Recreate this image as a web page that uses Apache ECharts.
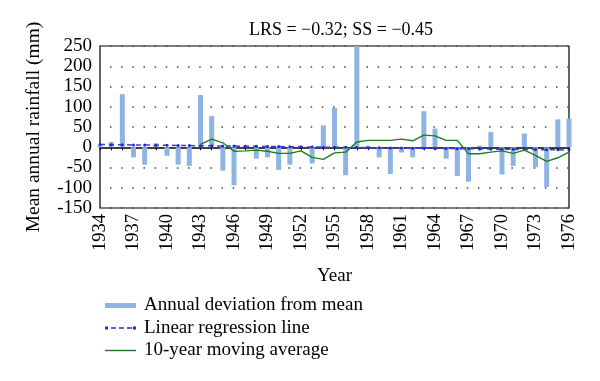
<!DOCTYPE html>
<html><head><meta charset="utf-8">
<script src="https://cdn.jsdelivr.net/npm/echarts@6/dist/echarts.min.js"></script>
<style>html,body{margin:0;padding:0;background:#fff}#c{width:600px;height:381px}</style>
</head><body><div id="c"></div>
<script>
var years = [];
for (var y = 1934; y <= 1976; y++) years.push(String(y));
var deviation = [5, 13, 131, -25, -43, 10, -21, -43, -46, 129, 77,
  -58, -94, 3, -28, -25, -56, -43, 2, -40, 54, 97,
  -69, 250, 4, -25, -66, -13, -25, 89, 46, -28, -71,
  -85, 4, 38, -67, -46, 34, -49, -98, 69, 71];
var regression = [6.7, 6.4, 6.1, 5.8, 5.4, 5.1, 4.8, 4.5, 4.2, 3.8, 3.5,
  3.2, 2.9, 2.6, 2.2, 1.9, 1.6, 1.3, 1.0, 0.6, 0.3, 0,
  -0.3, -0.6, -1.0, -1.3, -1.6, -1.9, -2.2, -2.6, -2.9, -3.2, -3.5,
  -3.8, -4.2, -4.5, -4.8, -5.1, -5.4, -5.8, -6.1, -6.4, -6.7];
var movingAvg = [null, null, null, null, null, null, null, null, null, 7, 20,
  11, -10, -9, -7, -10, -15, -15, -9, -25, -30, -14,
  -12, 13, 17, 17, 17, 20, 16, 30, 28, 17, 17,
  -16, -16, -12, -9, -15, -7, -20, -35, -26, -12];
var font = 'Liberation Serif';
var chart = echarts.init(document.getElementById('c'));
chart.setOption({
  animation: false,
  title: {text: 'LRS = \u22120.32; SS = \u22120.45', left: 336, top: 16, textAlign: 'center',
    textStyle: {fontFamily: font, fontSize: 18, fontWeight: 'normal', color: '#000'}},
  grid: {left: 100, right: 31, top: 46, bottom: 173, show: true, borderColor: '#000', borderWidth: 1.2},
  legend: {orient: 'vertical', left: 100, top: 291, itemWidth: 31, itemHeight: 7, itemGap: 3.5,
    textStyle: {fontFamily: font, fontSize: 19, color: '#000', padding: [0, 0, 0, 3]},
    data: [
      {name: 'Annual deviation from mean', icon: 'path://M0,1h31v5h-31z'},
      {name: 'Linear regression line', icon: 'path://M0,2.2h3v3h-3z M6,3h5v1.5h-5z M14,3h5v1.5h-5z M22,3h5v1.5h-5z M28,2.2h3v3h-3z'},
      {name: '10-year moving average', icon: 'path://M0,3h31v1.4h-31z'}
    ]},
  xAxis: [{
    type: 'category', data: years, boundaryGap: false, position: 'bottom',
    axisLine: {show: false, onZero: false}, axisTick: {show: false},
    axisLabel: {interval: 2, rotate: 90, fontFamily: font, fontSize: 18.5, color: '#000', margin: 6},
    name: 'Year', nameLocation: 'middle', nameGap: 59,
    nameTextStyle: {fontFamily: font, fontSize: 19, color: '#000'}
  }, {
    type: 'category', data: years, boundaryGap: false,
    axisLine: {show: true, onZero: true, lineStyle: {color: '#000', width: 1.5}},
    axisTick: {show: true, inside: true, length: 3, interval: 0, lineStyle: {color: '#000'}},
    axisLabel: {show: false}
  }],
  yAxis: {
    type: 'value', min: -150, max: 250, interval: 50,
    axisLine: {show: false}, axisTick: {show: false},
    axisLabel: {fontFamily: font, fontSize: 19, color: '#000', margin: 8},
    splitLine: {show: true, lineStyle: {color: '#444', width: 1.5, type: [1.5, 9.65], dashOffset: -10}},
    name: 'Mean annual rainfall (mm)', nameLocation: 'middle', nameGap: 56,
    nameTextStyle: {fontFamily: font, fontSize: 19.5, color: '#000'}
  },
  series: [{
    name: 'Annual deviation from mean', type: 'bar', data: deviation, barWidth: 5,
    itemStyle: {color: '#8DB4E2'}, z: 2
  }, {
    name: 'Linear regression line', type: 'line', data: regression,
    symbol: 'circle', symbolSize: 3, showSymbol: true,
    lineStyle: {color: '#3a3aee', width: 1.5, type: [5, 4]}, itemStyle: {color: '#2828c8'}, z: 4
  }, {
    name: '10-year moving average', type: 'line', data: movingAvg, symbol: 'none',
    lineStyle: {color: '#1f7d1f', width: 1.4}, itemStyle: {color: '#1f7d1f'}, z: 5
  }]
});
</script></body></html>
